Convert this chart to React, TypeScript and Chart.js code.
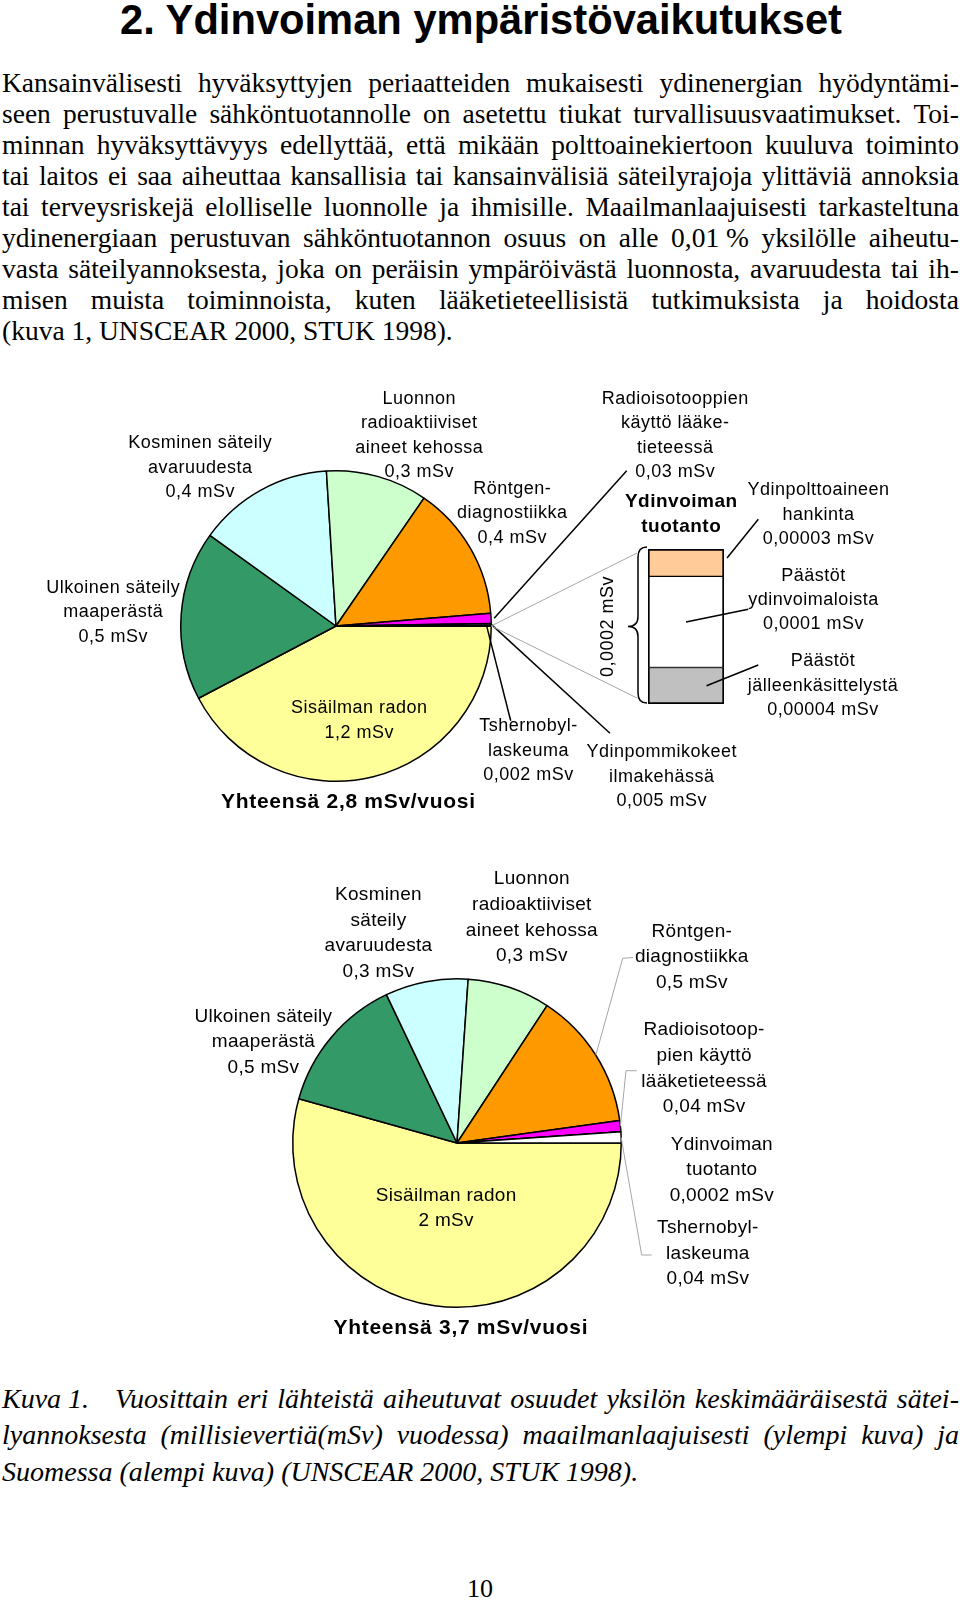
import React, { useEffect, useLayoutEffect, useRef } from 'react';
import { Chart, registerables } from 'chart.js';

Chart.register(...registerables);

// ---------------- DATA ----------------
const worldCategories = [
  'Sisäilman radon',
  'Ulkoinen säteily maaperästä',
  'Kosminen säteily avaruudesta',
  'Luonnon radioaktiiviset aineet kehossa',
  'Röntgendiagnostiikka',
  'Radioisotooppien käyttö lääketieteessä',
  'Ydinpommikokeet ilmakehässä',
  'Tshernobyl-laskeuma',
  'Ydinvoiman tuotanto',
];
const worldValues = [1.2, 0.5, 0.4, 0.3, 0.4, 0.03, 0.005, 0.002, 0.0002];
const worldNameLines: (string[] | null)[] = [
  ['Sisäilman radon'],
  ['Ulkoinen säteily', 'maaperästä'],
  ['Kosminen säteily', 'avaruudesta'],
  ['Luonnon', 'radioaktiiviset', 'aineet kehossa'],
  ['Röntgen-', 'diagnostiikka'],
  ['Radioisotooppien', 'käyttö lääke-', 'tieteessä'],
  ['Ydinpommikokeet', 'ilmakehässä'],
  ['Tshernobyl-', 'laskeuma'],
  null,
];

const finlandCategories = [
  'Sisäilman radon',
  'Ulkoinen säteily maaperästä',
  'Kosminen säteily avaruudesta',
  'Luonnon radioaktiiviset aineet kehossa',
  'Röntgendiagnostiikka',
  'Radioisotooppien käyttö lääketieteessä',
  'Ydinvoiman tuotanto',
  'Tshernobyl-laskeuma',
];
const finlandValues = [2, 0.5, 0.3, 0.3, 0.5, 0.04, 0.0002, 0.04];
const finlandNameLines: string[][] = [
  ['Sisäilman radon'],
  ['Ulkoinen säteily', 'maaperästä'],
  ['Kosminen', 'säteily', 'avaruudesta'],
  ['Luonnon', 'radioaktiiviset', 'aineet kehossa'],
  ['Röntgen-', 'diagnostiikka'],
  ['Radioisotoop-', 'pien käyttö', 'lääketieteessä'],
  ['Ydinvoiman', 'tuotanto'],
  ['Tshernobyl-', 'laskeuma'],
];

const nuclearCategories = ['Päästöt jälleenkäsittelystä', 'Päästöt ydinvoimaloista', 'Ydinpolttoaineen hankinta'];
const nuclearValues = [0.00004, 0.0001, 0.00003];
const nuclearNameLines = [
  ['Päästöt', 'jälleenkäsittelystä'],
  ['Päästöt', 'ydinvoimaloista'],
  ['Ydinpolttoaineen', 'hankinta'],
];
const nuclearTitle = ['Ydinvoiman', 'tuotanto'];

const paragraphLines = [
  'Kansainvälisesti hyväksyttyjen periaatteiden mukaisesti ydinenergian hyödyntämi-',
  'seen perustuvalle sähköntuotannolle on asetettu tiukat turvallisuusvaatimukset. Toi-',
  'minnan hyväksyttävyys edellyttää, että mikään polttoainekiertoon kuuluva toiminto',
  'tai laitos ei saa aiheuttaa kansallisia tai kansainvälisiä säteilyrajoja ylittäviä annoksia',
  'tai terveysriskejä elolliselle luonnolle ja ihmisille. Maailmanlaajuisesti tarkasteltuna',
  'ydinenergiaan perustuvan sähköntuotannon osuus on alle 0,01\u00A0% yksilölle aiheutu-',
  'vasta säteilyannoksesta, joka on peräisin ympäröivästä luonnosta, avaruudesta tai ih-',
  'misen muista toiminnoista, kuten lääketieteellisistä tutkimuksista ja hoidosta',
  '(kuva 1, UNSCEAR 2000, STUK 1998).',
];
const captionLabel = 'Kuva 1.';
const captionLines = [
  'Vuosittain eri lähteistä aiheutuvat osuudet yksilön keskimääräisestä sätei-',
  'lyannoksesta (millisievertiä(mSv) vuodessa) maailmanlaajuisesti (ylempi kuva) ja',
  'Suomessa (alempi kuva) (UNSCEAR 2000, STUK 1998).',
];
const headingText = '2. Ydinvoiman ympäristövaikutukset';
const pageNumber = '10';

// ---------------- STYLES ----------------
const worldColors = ['#FFFF99', '#339966', '#CCFFFF', '#CCFFCC', '#FF9900', '#FF00FF', '#C0C0C0', '#808080', '#FFFFFF'];
const finlandColors = ['#FFFF99', '#339966', '#CCFFFF', '#CCFFCC', '#FF9900', '#FF00FF', '#FFFFFF', '#FFFFFF'];
const nuclearColors = ['#C0C0C0', '#FFFFFF', '#FFCC99'];

const SANS = '"Liberation Sans", Arial, Helvetica, sans-serif';
const SERIF = '"Liberation Serif", "Times New Roman", Times, serif';

const fmt = (v: number) => String(v).replace('.', ',') + ' mSv';
const total = (a: number[]) => 'Yhteensä ' + a.reduce((s, v) => s + v, 0).toFixed(1).replace('.', ',') + ' mSv/vuosi';

// ---------------- LAYOUT ----------------
type Pt = [number, number];
const P1 = { left: 0, top: 370, w: 960, h: 460, cx: 336, cy: 626, d: 312 };
const P2 = { left: 0, top: 840, w: 960, h: 510, cx: 457, cy: 1143, d: 330 };
const B1 = { left: 600, top: 370, w: 360, h: 460, x0: 648, x1: 724, y0: 549, y1: 704 };

const worldLabelPos: (Pt | null)[] = [
  [359, 708.5], [113, 588], [200, 443.5], [419, 399], [512, 489], [675, 399], [661.5, 752.3], [528.3, 726.5], null,
];
const finlandLabelPos: Pt[] = [
  [446, 1195.3], [263.3, 1016.3], [378.3, 894.7], [531.7, 879], [691.7, 931.5], [704, 1030], [721.7, 1144.3], [707.7, 1227.8],
];
const nuclearLabelPos: Pt[] = [[822.7, 661.3], [813.3, 575.7], [818.3, 490.3]];
const nuclearLeaderEnd: Pt[] = [[758.3, 665], [748.3, 609.3], [758.3, 519.3]];
const nuclearLeaderAnchor: Pt[] = [[0.27, 0.5], [0, 0.5], [0.54, 0.33]];

interface Lbl { lines: string[]; x: number; y: number; size: number; lh: number; bold?: boolean; ls?: number; }

function drawLabel(ctx: CanvasRenderingContext2D, l: Lbl, ox: number, oy: number) {
  ctx.save();
  ctx.font = `${l.bold ? 'bold ' : ''}${l.size}px ${SANS}`;
  (ctx as any).letterSpacing = `${l.ls ?? 0}px`;
  ctx.fillStyle = '#000';
  ctx.textAlign = 'center';
  ctx.textBaseline = 'middle';
  l.lines.forEach((t, k) => ctx.fillText(t, l.x - ox + (l.ls ?? 0) / 2, l.y - oy + k * l.lh));
  ctx.restore();
}

function polyline(ctx: CanvasRenderingContext2D, pts: Pt[], color: string, width: number) {
  ctx.save();
  ctx.strokeStyle = color;
  ctx.lineWidth = width;
  ctx.beginPath();
  pts.forEach((p, i) => (i === 0 ? ctx.moveTo(p[0], p[1]) : ctx.lineTo(p[0], p[1])));
  ctx.stroke();
  ctx.restore();
}

function arcPoint(chart: any, i: number, rf: number): Pt {
  const el = chart.getDatasetMeta(0).data[i];
  const p = el.getProps(['x', 'y', 'startAngle', 'endAngle', 'outerRadius'], true);
  const mid = (p.startAngle + p.endAngle) / 2;
  return [p.x + Math.cos(mid) * p.outerRadius * rf, p.y + Math.sin(mid) * p.outerRadius * rf];
}

interface Leader { index: number; to: Pt[]; color: string; width: number; rf: number; }

function pieOptions(L: typeof P1) {
  const padL = L.cx - L.d / 2 - L.left;
  const padT = L.cy - L.d / 2 - L.top;
  return {
    responsive: false,
    animation: false as const,
    rotation: 90,
    layout: { padding: { left: padL, top: padT, right: L.w - padL - L.d, bottom: L.h - padT - L.d } },
    plugins: { legend: { display: false }, tooltip: { enabled: false } },
  };
}

function makePie(canvas: HTMLCanvasElement, L: typeof P1, cats: string[], vals: number[], colors: string[],
  labels: Lbl[], leaders: Leader[]) {
  return new Chart(canvas, {
    type: 'pie',
    data: {
      labels: cats,
      datasets: [{ data: vals, backgroundColor: colors, borderColor: '#000', borderWidth: 1.5 }],
    },
    options: pieOptions(L) as any,
    plugins: [{
      id: 'pieAnnotations',
      afterDraw(chart: any) {
        const ctx = chart.ctx as CanvasRenderingContext2D;
        leaders.forEach((ld) => {
          const start = arcPoint(chart, ld.index, ld.rf);
          const pts: Pt[] = ld.to.map((p) => [p[0] - L.left, p[1] - L.top] as Pt);
          polyline(ctx, [...pts, start], ld.color, ld.width);
        });
        labels.forEach((l) => drawLabel(ctx, l, L.left, L.top));
      },
    }],
  });
}

function makeWorldPie(canvas: HTMLCanvasElement) {
  const labels: Lbl[] = [];
  worldNameLines.forEach((n, i) => {
    const pos = worldLabelPos[i];
    if (!n || !pos) return;
    labels.push({ lines: [...n, fmt(worldValues[i])], x: pos[0], y: pos[1], size: 18, lh: 24.4, ls: 0.5 });
  });
  labels.push({ lines: [total(worldValues)], x: 348, y: 802.5, size: 21, lh: 24, bold: true, ls: 0.7 });
  const leaders: Leader[] = [
    { index: 5, to: [[626.7, 470.7]], color: '#000', width: 1.5, rf: 1.02 },
    { index: 7, to: [[510.7, 720.7]], color: '#000', width: 1.5, rf: 0.97 },
    { index: 6, to: [[610, 733.3]], color: '#000', width: 1.5, rf: 1.0 },
    { index: 8, to: [[637, 553]], color: '#A6A6A6', width: 1, rf: 1.0 },
    { index: 8, to: [[637, 698]], color: '#A6A6A6', width: 1, rf: 1.0 },
  ];
  return makePie(canvas, P1, worldCategories, worldValues, worldColors, labels, leaders);
}

function makeFinlandPie(canvas: HTMLCanvasElement) {
  const labels: Lbl[] = finlandNameLines.map((n, i) => ({
    lines: [...n, fmt(finlandValues[i])], x: finlandLabelPos[i][0], y: finlandLabelPos[i][1], size: 19, lh: 25.7, ls: 0.3,
  }));
  labels.push({ lines: [total(finlandValues)], x: 460.5, y: 1328.3, size: 21, lh: 24, bold: true, ls: 0.7 });
  const leaders: Leader[] = [
    { index: 4, to: [[633, 957.5], [622.7, 958.3]], color: '#A6A6A6', width: 1, rf: 1.0 },
    { index: 5, to: [[636.7, 1070.7], [626, 1070.7]], color: '#A6A6A6', width: 1, rf: 1.0 },
    { index: 7, to: [[651.7, 1255], [641.7, 1255]], color: '#A6A6A6', width: 1, rf: 1.0 },
  ];
  return makePie(canvas, P2, finlandCategories, finlandValues, finlandColors, labels, leaders);
}

function makeNuclearBar(canvas: HTMLCanvasElement) {
  const L = B1;
  const padL = L.x0 - L.left;
  const padT = L.y0 - L.top;
  const sum = nuclearValues.reduce((s, v) => s + v, 0);
  const widths = [
    { left: 2, right: 2, bottom: 2, top: 1 },
    { left: 2, right: 2, bottom: 1, top: 1 },
    { left: 2, right: 2, bottom: 1, top: 2 },
  ];
  return new Chart(canvas, {
    type: 'bar',
    data: {
      labels: ['Ydinvoiman tuotanto'],
      datasets: nuclearCategories.map((c, i) => ({
        label: c,
        data: [nuclearValues[i]],
        backgroundColor: nuclearColors[i],
        borderColor: '#000',
        borderWidth: widths[i],
        borderSkipped: false,
        barPercentage: 1,
        categoryPercentage: 1,
      })),
    } as any,
    options: {
      responsive: false,
      animation: false,
      layout: { padding: { left: padL, top: padT, right: L.w - (L.x1 - L.left), bottom: L.h - (L.y1 - L.top) } },
      scales: {
        x: { display: false, stacked: true },
        y: { display: false, stacked: true, min: 0, max: sum },
      },
      plugins: { legend: { display: false }, tooltip: { enabled: false } },
    } as any,
    plugins: [{
      id: 'barAnnotations',
      afterDraw(chart: any) {
        const ctx = chart.ctx as CanvasRenderingContext2D;
        const els = nuclearValues.map((_, i) => chart.getDatasetMeta(i).data[0].getProps(['x', 'y', 'base', 'width'], true));
        const left = els[0].x - els[0].width / 2;
        const top = els[els.length - 1].y;
        const bottom = els[0].base;
        const mid = (top + bottom) / 2;
        // brace
        const xr = left - 1, xm = left - 10, xp = left - 20, yt = top - 2, yb = bottom - 1;
        ctx.save();
        ctx.strokeStyle = '#000';
        ctx.lineWidth = 1.5;
        ctx.beginPath();
        ctx.moveTo(xr, yt);
        ctx.quadraticCurveTo(xm, yt, xm, yt + 10);
        ctx.lineTo(xm, mid - 10);
        ctx.quadraticCurveTo(xm, mid, xp, mid);
        ctx.quadraticCurveTo(xm, mid, xm, mid + 10);
        ctx.lineTo(xm, yb - 10);
        ctx.quadraticCurveTo(xm, yb, xr, yb);
        ctx.stroke();
        ctx.restore();
        // rotated total of nuclear production
        ctx.save();
        ctx.translate(left - 40, mid);
        ctx.rotate(-Math.PI / 2);
        ctx.font = `18px ${SANS}`;
        (ctx as any).letterSpacing = '0.5px';
        ctx.fillStyle = '#000';
        ctx.textAlign = 'center';
        ctx.textBaseline = 'middle';
        ctx.fillText(fmt(worldValues[8]), 0, 0);
        ctx.restore();
        // leaders + labels
        els.forEach((p: any, i: number) => {
          const a = nuclearLeaderAnchor[i];
          const sx = p.x + a[0] * p.width;
          const sy = p.y + a[1] * (p.base - p.y);
          const e = nuclearLeaderEnd[i];
          polyline(ctx, [[e[0] - L.left, e[1] - L.top], [sx, sy]], '#000', 1.5);
          drawLabel(ctx, {
            lines: [...nuclearNameLines[i], fmt(nuclearValues[i])],
            x: nuclearLabelPos[i][0], y: nuclearLabelPos[i][1], size: 18, lh: 24.4, ls: 0.5,
          }, L.left, L.top);
        });
        drawLabel(ctx, { lines: nuclearTitle, x: 681, y: 501.5, size: 19, lh: 25, bold: true, ls: 0.5 }, L.left, L.top);
      },
    }],
  });
}

// ---------------- TEXT HELPERS ----------------
function Fit({ left, top, width, style, children }: any) {
  const ref = useRef<HTMLSpanElement>(null);
  useLayoutEffect(() => {
    const el = ref.current;
    if (!el) return;
    el.style.transform = 'none';
    const w = el.getBoundingClientRect().width;
    if (w > 0) el.style.transform = `scaleX(${width / w})`;
  }, [width]);
  return (
    <span ref={ref} style={{ position: 'absolute', left, top, whiteSpace: 'pre', transformOrigin: '0 0', display: 'inline-block', ...style }}>
      {children}
    </span>
  );
}

function JLine({ text, left, top, width, height, font, justify }: any) {
  const words = text.split(' ');
  return (
    <div style={{
      position: 'absolute', left, top, width, height, lineHeight: height + 'px', font,
      display: 'flex', justifyContent: justify ? 'space-between' : 'flex-start', whiteSpace: 'pre', color: '#000',
    }}>
      {justify ? words.map((w: string, i: number) => <span key={i}>{w}</span>) : <span>{text}</span>}
    </div>
  );
}

export default function App() {
  const pie1Ref = useRef<HTMLCanvasElement>(null);
  const barRef = useRef<HTMLCanvasElement>(null);
  const pie2Ref = useRef<HTMLCanvasElement>(null);

  useEffect(() => {
    const charts: Chart[] = [];
    if (pie1Ref.current) charts.push(makeWorldPie(pie1Ref.current));
    if (barRef.current) charts.push(makeNuclearBar(barRef.current));
    if (pie2Ref.current) charts.push(makeFinlandPie(pie2Ref.current));
    return () => charts.forEach((c) => c.destroy());
  }, []);

  const pFont = `27.5px ${SERIF}`;
  const pLH = 31.1;
  const cFont = `italic 28px ${SERIF}`;
  const cLH = 36.3;

  return (
    <div style={{ position: 'absolute', left: 0, top: 0, width: 960, height: 1600, background: '#fff', overflow: 'hidden' }}>
      <Fit left={120} top={-4.5} width={722} style={{ font: `bold 42px ${SANS}`, lineHeight: '48px', color: '#000' }}>
        {headingText}
      </Fit>

      {paragraphLines.map((t, k) => (
        <JLine key={k} text={t} left={2} top={66.5 + k * pLH} width={957} height={pLH} font={pFont}
          justify={k < paragraphLines.length - 1} />
      ))}

      <canvas ref={pie1Ref} width={P1.w} height={P1.h}
        style={{ position: 'absolute', left: P1.left, top: P1.top, width: P1.w, height: P1.h }} />
      <canvas ref={barRef} width={B1.w} height={B1.h}
        style={{ position: 'absolute', left: B1.left, top: B1.top, width: B1.w, height: B1.h }} />
      <canvas ref={pie2Ref} width={P2.w} height={P2.h}
        style={{ position: 'absolute', left: P2.left, top: P2.top, width: P2.w, height: P2.h }} />

      <JLine text={captionLabel} left={2} top={1383} width={110} height={cLH} font={cFont} justify={false} />
      <JLine text={captionLines[0]} left={115} top={1383} width={844} height={cLH} font={cFont} justify={true} />
      <JLine text={captionLines[1]} left={2} top={1383 + cLH} width={957} height={cLH} font={cFont} justify={true} />
      <JLine text={captionLines[2]} left={2} top={1383 + 2 * cLH} width={957} height={cLH} font={cFont} justify={false} />

      <div style={{ position: 'absolute', left: 430, top: 1574, width: 100, height: 30, lineHeight: '30px', textAlign: 'center', font: `26px ${SERIF}`, color: '#000' }}>
        {pageNumber}
      </div>
    </div>
  );
}
